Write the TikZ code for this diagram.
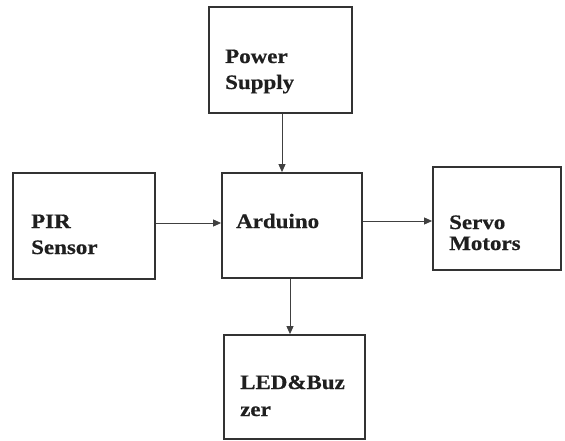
\documentclass[tikz,border=0pt]{standalone}
\usepackage{fontspec}
\newfontfamily\boxfont[FakeStretch=1.12,FakeBold=0.6]{Liberation Serif}
\usetikzlibrary{arrows.meta}
\begin{document}
\begin{tikzpicture}[x=1pt,y=-1pt,
  blk/.style={draw=black!80,line width=1.8pt,inner sep=0pt},
  lbl/.style={anchor=base west,inner sep=0pt,font=\boxfont\bfseries\fontsize{20.5}{26}\selectfont,text=black!88},
  conn/.style={draw=black!75,line width=0.9pt,-{Triangle[length=8pt,width=7pt]}}]
\useasboundingbox (0,0) rectangle (565,441);
% boxes
\node[blk,minimum width=143pt,minimum height=106pt] (ps) at (280.5,60) {};
\node[blk,minimum width=142pt,minimum height=106pt] (pir) at (84,226) {};
\node[blk,minimum width=140pt,minimum height=105pt] (ard) at (292,225.5) {};
\node[blk,minimum width=128pt,minimum height=103pt] (servo) at (497,218.5) {};
\node[blk,minimum width=141pt,minimum height=104pt] (led) at (294.5,387) {};
% labels
\node[lbl] (tps1) at (225,63) {Power};
\node[lbl] (tps2) at (225,89) {Supply};
\node[lbl] (tpir1) at (31,228) {PIR};
\node[lbl] (tpir2) at (31,254) {Sensor};
\node[lbl] (tard) at (236,228) {Arduino};
\node[lbl] (tsv1) at (449,229) {Servo};
\node[lbl] (tsv2) at (449,250) {Motors};
\node[lbl] (tled1) at (240,389) {LED\&Buz};
\node[lbl] (tled2) at (240,416) {zer};
% connectors
\draw[conn] (ps.south -| 282,0) -- (ard.north -| 282,0);
\draw[conn] (pir.east |- 0,223) -- (ard.west |- 0,223);
\draw[conn] (ard.east |- 0,221) -- (servo.west |- 0,221);
\draw[conn] (ard.south -| 290,0) -- (led.north -| 290,0);
\end{tikzpicture}
\end{document}
